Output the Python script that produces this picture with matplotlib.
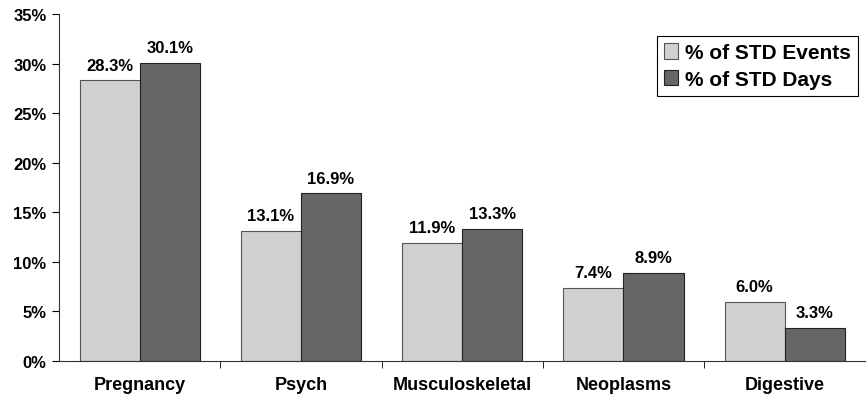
import matplotlib
matplotlib.use("agg")
import matplotlib.pyplot as plt
import numpy as np

plt.rcParams["font.family"] = ["Liberation Sans", "DejaVu Sans"]

categories = ["Pregnancy", "Psych", "Musculoskeletal", "Neoplasms", "Digestive"]
events = [28.3, 13.1, 11.9, 7.4, 6.0]
days = [30.1, 16.9, 13.3, 8.9, 3.3]
series_names = ["% of STD Events", "% of STD Days"]

fig = plt.figure(figsize=(8.68, 4.02), dpi=100)
ax = fig.add_axes([0.068, 0.0995, 0.929, 0.863])

x = np.arange(len(categories))
w = 0.373
b1 = ax.bar(x - w / 2, events, w, color="#D0D0D0", edgecolor="#555555", linewidth=0.8, label=series_names[0])
b2 = ax.bar(x + w / 2, days, w, color="#666666", edgecolor="#222222", linewidth=0.8, label=series_names[1])

for bars, vals in ((b1, events), (b2, days)):
    for r, v in zip(bars, vals):
        ax.text(r.get_x() + r.get_width() / 2, v + 0.8, f"{v:.1f}%", ha="center", va="bottom",
                fontsize=12, fontweight="bold")

ax.set_xlim(-0.5, len(categories) - 0.5)
ax.set_ylim(0, 35)
ax.set_yticks(np.arange(0, 36, 5))
ax.set_yticklabels([f"{t}%" for t in range(0, 36, 5)], fontsize=12, fontweight="bold")
ax.set_xticks(x)
ax.set_xticklabels(categories, fontsize=13, fontweight="bold")
ax.tick_params(axis="x", length=0, pad=11)
ax.set_xticks(np.arange(0.5, len(categories) - 0.5, 1), minor=True)
ax.tick_params(axis="x", which="minor", length=5, direction="out")
ax.tick_params(axis="y", length=5, direction="out", pad=4)

for s in ("top", "right"):
    ax.spines[s].set_visible(False)
ax.spines["left"].set_color("#333333")
ax.spines["bottom"].set_color("#333333")

leg = ax.legend(loc="upper right", bbox_to_anchor=(0.999, 0.955), prop={"size": 15, "weight": "bold"},
                fancybox=False, framealpha=1, edgecolor="black", handlelength=0.65, handleheight=0.75,
                handletextpad=0.35, borderpad=0.35, labelspacing=0.35, borderaxespad=0.3)
leg.get_frame().set_linewidth(0.8)

fig.savefig("out.png", dpi=100)
